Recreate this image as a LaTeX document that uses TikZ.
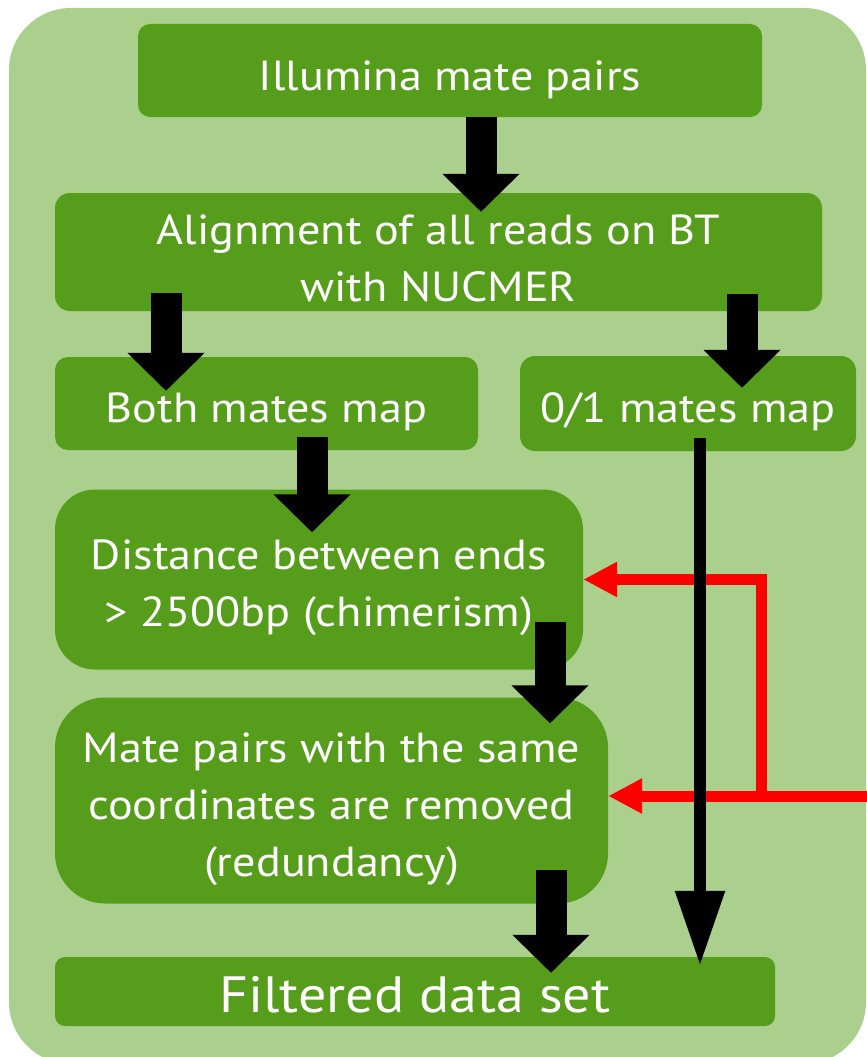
\documentclass[tikz,border=0pt]{standalone}
\usepackage{fontspec}
\setmainfont{PT Sans}[FakeStretch=1.1]
\usetikzlibrary{arrows.meta,calc}
\definecolor{bggreen}{HTML}{ABCF8D}
\definecolor{boxgreen}{HTML}{579D1C}
\begin{document}
\begin{tikzpicture}[x=1pt,y=-1pt,
  box/.style={fill=boxgreen, draw=none, inner sep=0pt},
  txt/.style={text=white, align=center, inner sep=0pt, font=\fontsize{42}{57}\selectfont},
  blk/.style={line width=31pt, draw=black, -{Triangle[length=38pt,width=75pt]}},
  thin/.style={line width=12pt, draw=black, -{Triangle[length=75pt,width=47pt]}},
  redarr/.style={line width=11pt, draw=red, -{Triangle[length=34pt,width=33pt]}}]
\useasboundingbox (0,0) rectangle (867,1057);
\fill[bggreen, rounded corners=62pt] (9,8) rectangle (866,1064);
% boxes
\node[box, rounded corners=12pt, minimum width=624pt, minimum height=93pt] (b1) at (450,70.5) {};
\node[box, rounded corners=15pt, minimum width=767pt, minimum height=118pt] (b2) at (438.5,252) {};
\node[box, rounded corners=13pt, minimum width=423pt, minimum height=93pt] (b3) at (266.5,403.5) {};
\node[box, rounded corners=15pt, minimum width=336pt, minimum height=95pt] (b4) at (688,403.5) {};
\node[box, rounded corners=40pt, minimum width=528pt, minimum height=180pt] (b5) at (319,579.5) {};
\node[box, rounded corners=50pt, minimum width=553pt, minimum height=206pt] (b6) at (331.5,800.5) {};
\node[box, rounded corners=10pt, minimum width=720pt, minimum height=69pt] (b7) at (415,991.5) {};
% texts
\node[txt, yshift=-9pt] (t1) at (b1) {Illumina mate pairs};
\node[txt, yshift=-6pt] (t2) at (b2) {Alignment of all reads on BT\\with NUCMER};
\node[txt, yshift=-8pt] (t3) at (b3) {Both mates map};
\node[txt, yshift=-8pt] (t4) at (b4) {0/1 mates map};
\node[txt, yshift=-8.5pt] (t5) at (b5) {Distance between ends\\\textgreater{} 2500bp (chimerism)};
\node[txt, yshift=-9pt] (t6) at (b6) {Mate pairs with the same\\coordinates are removed\\(redundancy)};
\node[txt, yshift=-3.5pt, font=\fontsize{51}{60}\selectfont] (t7) at (b7) {Filtered data set};
% red feedback
\coordinate (rin) at (870,796);
\coordinate (rj) at (761,802);
\draw[redarr] (rin) -- (rin -| b6.east);
\draw[redarr] (rj) |- (b5.east);
% thin arrow
\coordinate (t0) at (700,438);
\draw[thin, shorten >=-9pt] (t0) -- (t0 |- b7.north);
% block arrows
\coordinate (a1) at (481,117);
\draw[blk, shorten >=-19pt] (a1) -- (a1 |- b2.north);
\coordinate (a2) at (166,293);
\draw[blk, shorten >=-34pt] (a2) -- (a2 |- b3.north);
\coordinate (a3) at (742,294);
\draw[blk, shorten >=-32pt] (a3) -- (a3 |- b4.north);
\coordinate (a4) at (312,437);
\draw[blk, shorten >=-43pt] (a4) -- (a4 |- b5.north);
\coordinate (a5) at (550,622);
\draw[blk, shorten >=-26pt] (a5) -- (a5 |- b6.north);
\coordinate (a6) at (551,870);
\draw[blk, shorten >=-16pt] (a6) -- (a6 |- b7.north);
\end{tikzpicture}
\end{document}
